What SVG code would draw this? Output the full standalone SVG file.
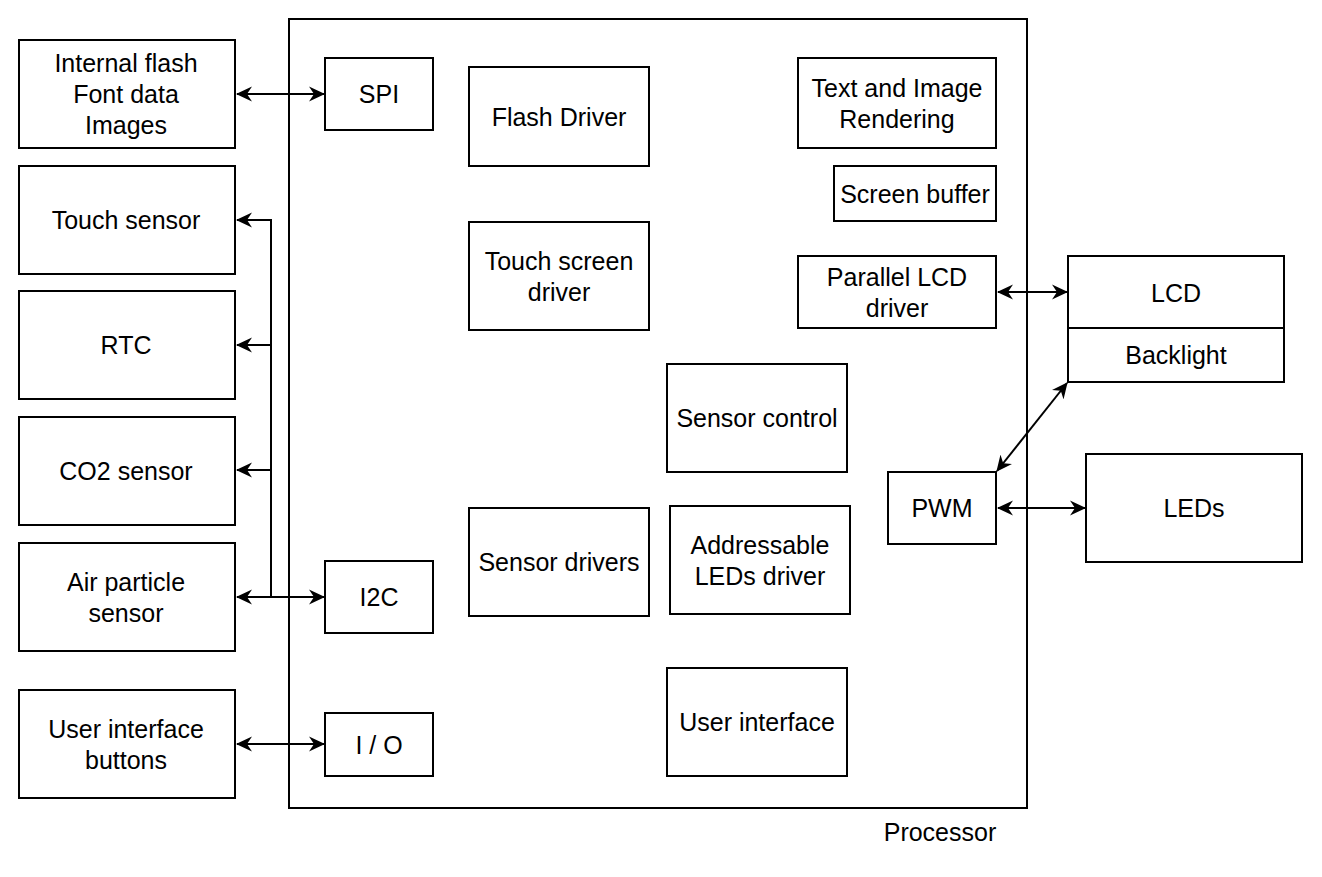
<svg xmlns="http://www.w3.org/2000/svg" width="1322" height="877" viewBox="0 0 1322 877">
<style>
.b{fill:#fff;stroke:#000;stroke-width:2}
.c{fill:none;stroke:#000;stroke-width:2}
text{font-family:"Liberation Sans",Arial,sans-serif;font-size:25px;fill:#000;text-anchor:middle;dominant-baseline:central}
</style>
<defs>
<marker id="m" markerWidth="16" markerHeight="16" refX="15" refY="8" orient="auto-start-reverse" markerUnits="userSpaceOnUse">
<path d="M0,0.5 L16,8 L0,15.5 L5,8 Z" fill="#000"/>
</marker>
</defs>
<g id="processor"><rect class="b" x="289" y="19" width="738" height="789"/><text x="940" y="832">Processor</text></g>
<g id="flash"><rect class="b" x="19" y="40" width="216" height="108"/><text x="126" y="63">Internal flash</text><text x="126" y="94">Font data</text><text x="126" y="125">Images</text></g>
<g id="touch"><rect class="b" x="19" y="166" width="216" height="108"/><text x="126" y="220">Touch sensor</text></g>
<g id="rtc"><rect class="b" x="19" y="291" width="216" height="108"/><text x="126" y="345">RTC</text></g>
<g id="co2"><rect class="b" x="19" y="417" width="216" height="108"/><text x="126" y="471">CO2 sensor</text></g>
<g id="air"><rect class="b" x="19" y="543" width="216" height="108"/><text x="126" y="582">Air particle</text><text x="126" y="613">sensor</text></g>
<g id="buttons"><rect class="b" x="19" y="690" width="216" height="108"/><text x="126" y="729">User interface</text><text x="126" y="760">buttons</text></g>
<g id="spi"><rect class="b" x="325" y="58" width="108" height="72"/><text x="379" y="94">SPI</text></g>
<g id="i2c"><rect class="b" x="325" y="561" width="108" height="72"/><text x="379" y="597">I2C</text></g>
<g id="io"><rect class="b" x="325" y="713" width="108" height="63"/><text x="379" y="745">I / O</text></g>
<g id="flashdrv"><rect class="b" x="469" y="67" width="180" height="99"/><text x="559" y="117">Flash Driver</text></g>
<g id="touchdrv"><rect class="b" x="469" y="222" width="180" height="108"/><text x="559" y="261">Touch screen</text><text x="559" y="292">driver</text></g>
<g id="sensordrv"><rect class="b" x="469" y="508" width="180" height="108"/><text x="559" y="562">Sensor drivers</text></g>
<g id="sensorctl"><rect class="b" x="667" y="364" width="180" height="108"/><text x="757" y="418">Sensor control</text></g>
<g id="ledsdrv"><rect class="b" x="670" y="506" width="180" height="108"/><text x="760" y="545">Addressable</text><text x="760" y="576">LEDs driver</text></g>
<g id="ui"><rect class="b" x="667" y="668" width="180" height="108"/><text x="757" y="722">User interface</text></g>
<g id="render"><rect class="b" x="798" y="58" width="198" height="90"/><text x="897" y="88">Text and Image</text><text x="897" y="119">Rendering</text></g>
<g id="screenbuf"><rect class="b" x="834" y="166" width="162" height="55"/><text x="915" y="194">Screen buffer</text></g>
<g id="lcddrv"><rect class="b" x="798" y="256" width="198" height="72"/><text x="897" y="277">Parallel LCD</text><text x="897" y="308">driver</text></g>
<g id="pwm"><rect class="b" x="888" y="472" width="108" height="72"/><text x="942" y="508">PWM</text></g>
<g id="lcd"><rect class="b" x="1068" y="256" width="216" height="72"/><text x="1176" y="293">LCD</text><rect class="b" x="1068" y="328" width="216" height="54"/><text x="1176" y="355">Backlight</text></g>
<g id="leds"><rect class="b" x="1086" y="454" width="216" height="108"/><text x="1194" y="508">LEDs</text></g>
<g id="connectors">
<path class="c" d="M237,94 H324" marker-start="url(#m)" marker-end="url(#m)"/>
<path class="c" d="M237,597 H324" marker-start="url(#m)" marker-end="url(#m)"/>
<path class="c" d="M271,597 V220 H237" marker-end="url(#m)"/>
<path class="c" d="M271,345 H237" marker-end="url(#m)"/>
<path class="c" d="M271,470 H237" marker-end="url(#m)"/>
<path class="c" d="M237,744 H324" marker-start="url(#m)" marker-end="url(#m)"/>
<path class="c" d="M998,292 H1067" marker-start="url(#m)" marker-end="url(#m)"/>
<path class="c" d="M998,508 H1085" marker-start="url(#m)" marker-end="url(#m)"/>
<path class="c" d="M997,471 L1067,383" marker-start="url(#m)" marker-end="url(#m)"/>
</g>
</svg>
